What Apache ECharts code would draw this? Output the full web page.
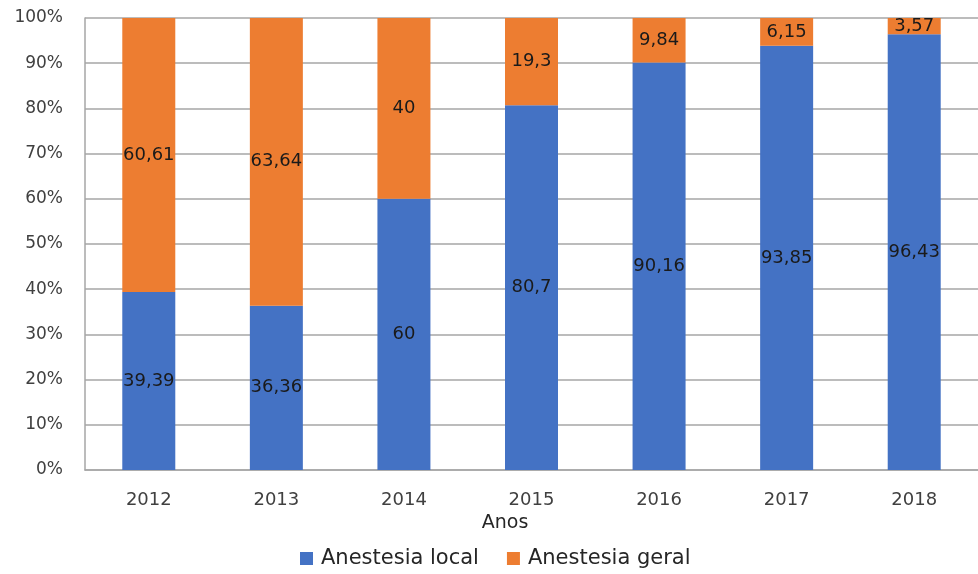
<!DOCTYPE html>
<html><head><meta charset="utf-8">
<script src="https://cdn.jsdelivr.net/npm/echarts@6/dist/echarts.min.js"></script>
<style>html,body{margin:0;padding:0;background:#fff}#c{width:978px;height:574px}</style>
</head><body><div id="c"></div>
<script>
const categories = ['2012','2013','2014','2015','2016','2017','2018'];
const localValues = [39.39, 36.36, 60, 80.7, 90.16, 93.85, 96.43];
const geralValues = [60.61, 63.64, 40, 19.3, 9.84, 6.15, 3.57];
const seriesNames = ['Anestesia local', 'Anestesia geral'];
const fmt = p => String(p.value).replace('.', ',');
const font = 'DejaVu Sans';
const chart = echarts.init(document.getElementById('c'));
chart.setOption({
  animation: false,
  textStyle: { fontFamily: font },
  grid: { left: 85, top: 18, width: 903, height: 452, containLabel: false },
  title: { text: 'Anos', left: 500, top: 509, textAlign: 'center',
    textStyle: { fontFamily: font, fontSize: 19, fontWeight: 'normal', color: '#262626' } },
  legend: { bottom: 0, left: 295, itemWidth: 13, itemHeight: 13, itemGap: 28,
    icon: 'rect', textStyle: { fontFamily: font, fontSize: 21, color: '#262626', padding: [0, 0, 0, 3] } },
  xAxis: { type: 'category', data: categories,
    axisLine: { lineStyle: { color: '#a6a6a6', width: 1.5 } }, axisTick: { show: false },
    axisLabel: { fontFamily: font, fontSize: 18, color: '#404040', margin: 21 } },
  yAxis: { type: 'value', min: 0, max: 100, interval: 10,
    axisLine: { show: true, lineStyle: { color: '#a6a6a6', width: 1.5 } },
    splitLine: { lineStyle: { color: '#a6a6a6', width: 1.5 } },
    axisLabel: { formatter: '{value}%', fontFamily: font, fontSize: 17, color: '#404040', margin: 22 } },
  series: [
    { name: seriesNames[0], type: 'bar', stack: 's', data: localValues, barWidth: 53,
      itemStyle: { color: '#4472C4' },
      label: { show: true, position: 'inside', formatter: fmt, fontFamily: font, fontSize: 18, color: '#1a1a1a' } },
    { name: seriesNames[1], type: 'bar', stack: 's', data: geralValues, barWidth: 53,
      itemStyle: { color: '#ED7D31' },
      label: { show: true, position: 'inside', formatter: fmt, fontFamily: font, fontSize: 18, color: '#1a1a1a' } }
  ]
});
</script></body></html>
